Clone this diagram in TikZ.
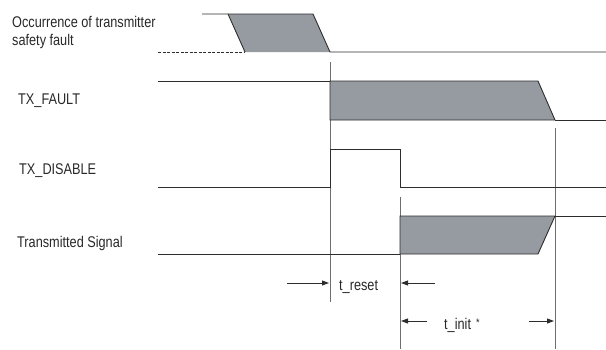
\documentclass[tikz,border=0pt]{standalone}
\usepackage{fontspec}
\setmainfont{Liberation Sans}[FakeStretch=0.82]
\usetikzlibrary{arrows.meta}
\definecolor{sig}{RGB}{45,45,45}
\definecolor{vline}{RGB}{110,110,110}
\definecolor{fillg}{RGB}{150,155,161}
\definecolor{txt}{RGB}{40,40,40}
\tikzset{
  sigline/.style={draw=sig, line width=0.9pt},
  vmark/.style={draw=vline, line width=0.9pt},
  fillshape/.style={fill=fillg, draw=sig, line width=0.9pt, line join=miter},
  lbl/.style={anchor=base west, inner sep=0pt, text=txt, font=\fontsize{15.5pt}{18pt}\selectfont},
  dimarrow/.style={draw=sig, line width=0.9pt, -{Triangle[length=7pt,width=5pt]}}
}
\begin{document}
\begin{tikzpicture}[x=1pt,y=-1pt]
\useasboundingbox (0,0) rectangle (606,349);
% labels
\node[lbl] (l1) at (12,27) {Occurrence of transmitter};
\node[lbl] (l2) at (12,45) {safety fault};
\node[lbl] (l3) at (18,104) {TX\_FAULT};
\node[lbl] (l4) at (19,174) {TX\_DISABLE};
\node[lbl] (l5) at (17,247) {Transmitted Signal};
% vertical markers
\draw[vmark] (330,62) -- (330,302);
\draw[vmark] (555,128) -- (555,349);
\draw[vmark] (400,197) -- (400,349);
% signal 1: occurrence
\fill[fillg] (228,14) -- (313,14) -- (330,52) -- (245,52) -- cycle;
\draw[sigline] (202,14) -- (313,14) -- (330,52) -- (606,52);
\draw[sigline] (228,14) -- (245,52);
\draw[sigline, dash pattern=on 3pt off 1.5pt] (158,52) -- (245,52);
% signal 2: TX_FAULT
\draw[sigline] (158,81) -- (330,81);
\draw[fillshape] (330,81) -- (538,81) -- (555,120) -- (330,120) -- cycle;
\draw[sigline] (555,120) -- (606,120);
% signal 3: TX_DISABLE
\draw[sigline] (158,187) -- (330,187) -- (330,149) -- (400,149) -- (400,187) -- (606,187);
% signal 4: Transmitted Signal
\draw[sigline] (158,254) -- (400,254);
\draw[fillshape] (400,216) -- (555,216) -- (538,254) -- (400,254) -- cycle;
\draw[sigline] (555,216) -- (606,216);
% timing annotations
\node[lbl] (tr) at (339,290) {t\_reset};
\node[lbl] (ti) at (444,329) {t\_init\,\,\raisebox{3pt}{\fontsize{11pt}{11pt}\selectfont *}};
\coordinate (a1s) at (287,283);
\coordinate (a1e) at (329,283);
\coordinate (a2s) at (435,283);
\coordinate (a2e) at (401,283);
\coordinate (a3s) at (427,321);
\coordinate (a3e) at (401,321);
\coordinate (a4s) at (529,321);
\coordinate (a4e) at (554,321);
\draw[dimarrow] (a1s) -- (a1e);
\draw[dimarrow] (a2s) -- (a2e);
\draw[dimarrow] (a3s) -- (a3e);
\draw[dimarrow] (a4s) -- (a4e);
\end{tikzpicture}
\end{document}
